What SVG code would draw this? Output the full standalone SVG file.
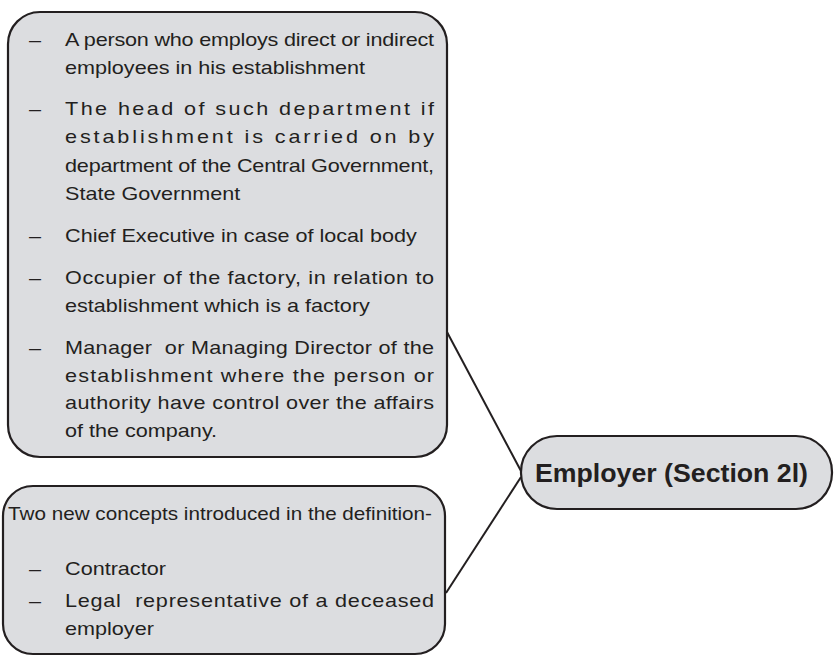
<svg xmlns="http://www.w3.org/2000/svg" width="834" height="656" viewBox="0 0 834 656">
<style>
.box{fill:#dcdde0;stroke:#231f20;stroke-width:2.2}
.t{font-family:"Liberation Sans",Arial,sans-serif;font-size:18px;fill:#231f20}
.b{font-family:"Liberation Sans",Arial,sans-serif;font-size:26.5px;font-weight:bold;fill:#231f20}
.c{stroke:#231f20;stroke-width:2;fill:none}
</style>
<rect width="834" height="656" fill="#ffffff"/>
<g id="connectors">
<line class="c" x1="447" y1="332" x2="521" y2="471"/>
<line class="c" x1="446" y1="593" x2="521" y2="477"/>
</g>
<g id="node-employer-types">
<rect class="box" x="8" y="12" width="439" height="445" rx="32" ry="32"/>
<g transform="scale(1.2 1)">
<text class="t" x="24.2" y="46">–</text>
<text class="t" x="54.2" y="46" textLength="307.5" lengthAdjust="spacing">A person who employs direct or indirect</text>
<text class="t" x="54.2" y="74">employees in his establishment</text>
<text class="t" x="24.2" y="115">–</text>
<text class="t" x="54.2" y="115" textLength="307.5" lengthAdjust="spacing">The head of such department if</text>
<text class="t" x="54.2" y="143.5" textLength="307.5" lengthAdjust="spacing">establishment is carried on by</text>
<text class="t" x="54.2" y="172" textLength="307.5" lengthAdjust="spacing">department of the Central Government,</text>
<text class="t" x="54.2" y="200">State Government</text>
<text class="t" x="24.2" y="242">–</text>
<text class="t" x="54.2" y="242">Chief Executive in case of local body</text>
<text class="t" x="24.2" y="284">–</text>
<text class="t" x="54.2" y="284" textLength="307.5" lengthAdjust="spacing">Occupier of the factory, in relation to</text>
<text class="t" x="54.2" y="312">establishment which is a factory</text>
<text class="t" x="24.2" y="354">–</text>
<text class="t" x="54.2" y="354" textLength="307.5" lengthAdjust="spacing" xml:space="preserve">Manager  or Managing Director of the</text>
<text class="t" x="54.2" y="382" textLength="307.5" lengthAdjust="spacing">establishment where the person or</text>
<text class="t" x="54.2" y="409.5" textLength="307.5" lengthAdjust="spacing">authority have control over the affairs</text>
<text class="t" x="54.2" y="437">of the company.</text>
</g>
</g>
<g id="node-new-concepts">
<rect class="box" x="3" y="486" width="442" height="168" rx="30" ry="30"/>
<g transform="scale(1.2 1)">
<text class="t" x="6.7" y="520" textLength="353.3" lengthAdjust="spacingAndGlyphs">Two new concepts introduced in the definition-</text>
<text class="t" x="24.2" y="575">–</text>
<text class="t" x="54.2" y="575">Contractor</text>
<text class="t" x="24.2" y="607">–</text>
<text class="t" x="54.2" y="607" textLength="307.5" lengthAdjust="spacing" xml:space="preserve">Legal  representative of a deceased</text>
<text class="t" x="54.2" y="635">employer</text>
</g>
</g>
<g id="node-employer">
<rect class="box" x="521" y="436" width="311" height="73" rx="36" ry="36"/>
<text class="b" x="535" y="482" textLength="273" lengthAdjust="spacingAndGlyphs">Employer (Section 2l)</text>
</g>
</svg>
